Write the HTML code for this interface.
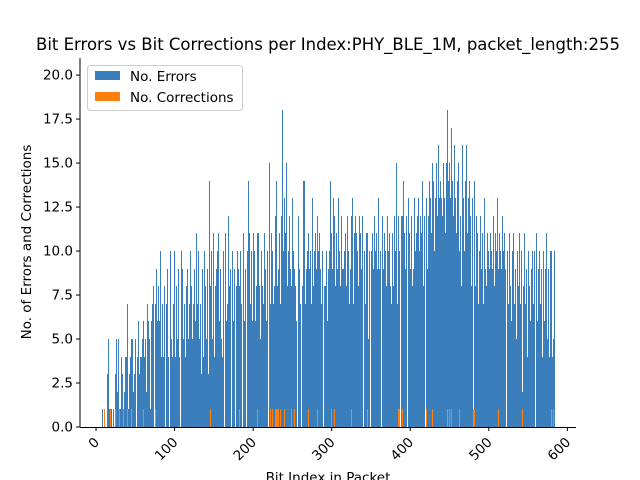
<!DOCTYPE html>
<html><head><meta charset="utf-8">
<style>
html,body{margin:0;padding:0;background:#fff;}
svg{display:block;font-family:"DejaVu Sans","Liberation Sans",sans-serif;}
</style></head>
<body>
<svg id="chart" width="640" height="480" viewBox="0 0 640 480" xmlns="http://www.w3.org/2000/svg">
<rect width="640" height="480" fill="#fff"/>
<text x="328" y="50" font-size="16.5" text-anchor="middle" fill="#000">Bit Errors vs Bit Corrections per Index:PHY_BLE_1M, packet_length:255</text>
<g id="bars" shape-rendering="crispEdges"></g>
<g id="axes"></g>
<text x="31" y="242" font-size="13.5" text-anchor="middle" transform="rotate(-90 31 242)">No. of Errors and Corrections</text>
<text x="328" y="482" font-size="13.5" text-anchor="middle">Bit Index in Packet</text>
<g>
<rect x="87.5" y="65.5" width="155" height="45" rx="3" fill="#fff" fill-opacity="0.8" stroke="#ccc"/>
<rect x="95" y="71" width="25" height="9" fill="#3a7ebb"/>
<text x="130" y="81" font-size="13.5">No. Errors</text>
<rect x="95" y="92" width="25" height="9" fill="#ff7f0e"/>
<text x="130" y="102" font-size="13.5">No. Corrections</text>
</g>
</svg>
<script>
const errors = [
0,0,0,0,0,0,0,0,1,0, 0,0,0,0,3,3,5,1,0,1, 1,0,1,2,2,3,5,2,5,1, 0,1,4,1,3,1,2,4,1,4,
7,1,3,2,4,5,1,5,2,3, 5,1,3,4,6,3,4,2,4,5, 3,6,4,5,2,7,4,6,5,1, 6,4,7,8,3,6,7,9,6,5,
8,6,10,4,5,7,4,8,6,5, 7,9,4,6,8,10,5,4,7,6, 10,4,7,8,5,9,4,6,7,10, 9,5,6,7,4,8,6,9,5,7,
10,6,8,5,7,9,4,6,11,7, 8,10,5,7,3,6,9,4,10,8, 7,5,9,3,14,6,8,10,5,9, 11,4,8,9,5,10,11,6,9,7,
5,4,10,8,9,11,6,7,8,12, 8,9,5,7,10,6,9,8,7,8, 10,9,6,8,10,7,8,9,11,6, 9,8,7,10,14,11,8,7,10,6,
9,11,10,6,8,11,9,11,8,5, 9,10,8,7,11,8,9,6,10,5, 8,15,7,11,9,10,7,8,12,9, 14,8,9,10,11,7,12,9,18,10,
13,11,15,9,8,10,12,6,9,8, 13,10,7,9,8,6,8,10,12,9, 7,10,10,8,14,9,14,7,9,10, 8,11,9,10,7,13,9,8,10,11,
7,9,12,10,8,11,9,7,10,10, 9,8,8,9,10,6,9,10,8,14, 11,9,13,10,12,8,11,9,10,13, 10,8,12,11,9,9,10,7,11,8,
12,10,8,7,9,12,13,10,7,11, 12,7,11,10,8,12,10,11,9,12, 8,9,10,7,11,9,11,5,10,8, 7,10,11,9,7,12,10,11,9,10,
13,9,10,8,11,12,9,11,7,10, 8,12,10,9,11,8,7,10,11,8, 12,10,9,15,7,12,10,9,11,12, 12,14,10,11,9,12,8,10,13,11,
9,10,12,8,9,13,12,10,11,12, 13,9,10,12,11,13,14,8,12,10, 11,13,9,12,14,10,13,11,15,12, 14,10,13,15,11,12,16,13,14,11,
13,12,15,14,13,11,15,14,18,14, 15,13,15,17,14,12,16,15,13,11, 14,13,15,10,12,8,11,16,13,10, 14,12,16,11,13,9,14,12,8,13,
11,10,14,8,12,9,11,7,10,8, 12,9,11,7,10,13,9,8,11,6, 10,9,11,7,10,9,12,8,10,11, 10,13,9,11,8,10,9,12,7,10,
11,9,5,8,10,7,11,9,8,6, 10,8,11,7,9,5,10,6,8,11, 7,9,10,2,8,11,5,7,9,4, 10,5,8,6,9,10,4,7,10,5,
8,11,6,9,5,10,7,9,4,8, 10,6,9,11,7,5,9,4,10,5, 10,4,5,10
];
const correctionIdx = [10,18,24,30,35,40,45,60,75,145,182,183,205,222,225,228,230,231,232,235,240,248,253,270,282,300,303,325,345,385,386,390,420,428,447,450,452,462,480,481,512,543,580,582];
const correctionVal = correctionIdx.map(() => 1);
const xTicks = [0,100,200,300,400,500,600];
const yTicks = [0,2.5,5,7.5,10,12.5,15,17.5,20];

const L=80,R=576,T=58,B=427, XMIN=-20.4, XMAX=611, YMIN=0, YMAX=20.97;
const xs = v => L + (v-XMIN)/(XMAX-XMIN)*(R-L);
const ys = v => B - (v-YMIN)/(YMAX-YMIN)*(B-T);
const NS="http://www.w3.org/2000/svg";
const bars=document.getElementById('bars'), axes=document.getElementById('axes');
function mk(tag, attrs, parent){const e=document.createElementNS(NS,tag);for(const k in attrs)e.setAttribute(k,attrs[k]);parent.appendChild(e);return e;}
function barSpan(i){
  const s=Math.ceil(xs(i-0.4)-0.5), e=Math.ceil(xs(i+0.4)-0.5);
  return [s, Math.max(e-s,0)];
}
errors.forEach((v,i)=>{
  if(!v) return;
  let [x,w]=barSpan(i);
  if(!w){
    const prev=errors[i-1]||0, next=errors[i+1]||0;
    if(v>prev && v>next){ x=Math.floor(xs(i)); w=1; } else return;
  }
  const r=mk('rect',{x:x,y:Math.round(ys(v)),width:w,height:B-Math.round(ys(v)),fill:'#3a7ebb'},bars);
  
  
});
correctionIdx.forEach((i,k)=>{
  const v=correctionVal[k];
  const [x,w]=barSpan(i);
  const r=mk('rect',{x:x,y:Math.round(ys(v)),width:Math.max(w,1),height:B-Math.round(ys(v)),fill:'#ff7f0e'},bars);
  
  
});
const ax1=mk('line',{x1:L,y1:T,x2:L,y2:B+0.5,stroke:'#000','stroke-width':1},axes);


const ax2=mk('line',{x1:L,y1:B+0.5,x2:R,y2:B+0.5,stroke:'#000','stroke-width':1},axes);


yTicks.forEach(t=>{
  const y=ys(t);
  mk('line',{x1:L-4,y1:y,x2:L,y2:y,stroke:'#000'},axes);
  const tx=mk('text',{x:L-7,y:y+4.5,'font-size':13.5,'text-anchor':'end'},axes);
  tx.textContent=t.toFixed(1);
  
  
});
xTicks.forEach(t=>{
  const x=xs(t);
  mk('line',{x1:x,y1:B,x2:x,y2:B+4,stroke:'#000'},axes);
  const tx=mk('text',{x:x+4,y:B+16,'font-size':13.5,'text-anchor':'end',transform:`rotate(-45 ${x+4} ${B+16})`},axes);
  tx.textContent=String(t);
  
  
});
</script>
</body></html>
